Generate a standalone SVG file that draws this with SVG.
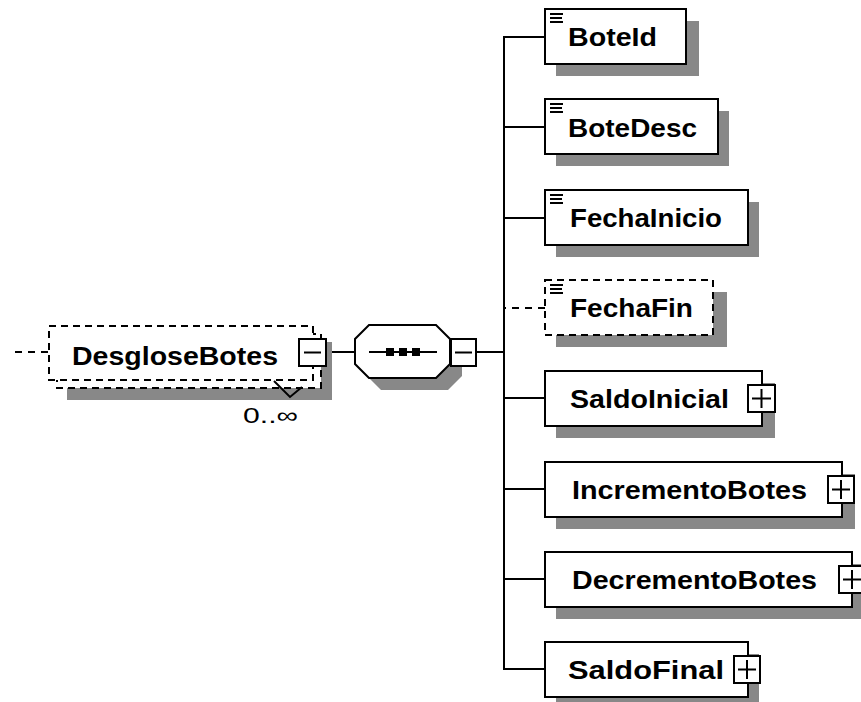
<svg xmlns="http://www.w3.org/2000/svg" width="861" height="702" viewBox="0 0 861 702">
<defs>
<style>
.bx{fill:#fff;stroke:#000;stroke-width:2}
.dbx{fill:#fff;stroke:#000;stroke-width:2;stroke-dasharray:7,5}
.sh{fill:#888}
.ln{stroke:#000;stroke-width:2;fill:none}
.dln{stroke:#000;stroke-width:2;fill:none;stroke-dasharray:7,6}
.btn{fill:#fff;stroke:#000;stroke-width:2}
.t{font-family:"Liberation Sans",Arial,sans-serif;font-weight:bold;font-size:26px;fill:#000}
.occ{font-family:"Liberation Sans",Arial,sans-serif;font-size:22px;fill:#000}
</style>
<g id="st">
<path d="M0 0h13M0 4h12M0 8h13" stroke="#000" stroke-width="2"/>
</g>
</defs>
<rect width="861" height="702" fill="#fff"/>

<g id="connectors">
<path class="dln" d="M48 352H11"/>
<path class="ln" d="M327 352H355"/>
<path class="ln" d="M477 352H504"/>
<path class="ln" d="M504 36V670"/>
<path class="ln" d="M504 37H545"/>
<path class="ln" d="M504 127H545"/>
<path class="ln" d="M504 218H545"/>
<path class="dln" d="M545 308H504"/>
<path class="ln" d="M504 398H545"/>
<path class="ln" d="M504 489H545"/>
<path class="ln" d="M504 579H545"/>
<path class="ln" d="M504 669H545"/>
</g>

<g id="DesgloseBotes">
<rect class="sh" x="67" y="342" width="265" height="58"/>
<rect class="dbx" x="57" y="334" width="264" height="54"/>
<rect class="dbx" x="49" y="326" width="264" height="54"/>
<text class="t" x="72" y="365" textLength="206" lengthAdjust="spacingAndGlyphs">DesgloseBotes</text>
<rect class="btn" x="299" y="339" width="27" height="27"/>
<path class="ln" d="M304 352.5H321"/>
<polyline class="ln" points="274,381 290,397 302,387"/>
<text class="occ" x="243" y="423" textLength="55" lengthAdjust="spacingAndGlyphs">0..∞</text>
</g>

<g id="sequence">
<polygon class="sh" points="381,337 448,337 462,351 462,376 448,390 381,390 367,376 367,351"/>
<polygon class="bx" points="369,325 436,325 450,339 450,364 436,378 369,378 355,364 355,339"/>
<path class="ln" d="M369 352H437"/>
<rect x="386" y="348" width="8" height="8" fill="#000"/>
<rect x="399" y="348" width="8" height="8" fill="#000"/>
<rect x="412" y="348" width="8" height="8" fill="#000"/>
<rect class="btn" x="451" y="339" width="25" height="27"/>
<path class="ln" d="M455 352.5H472"/>
</g>

<g id="BoteId">
<rect class="sh" x="556" y="21" width="143" height="55"/>
<rect class="bx" x="545" y="9" width="141" height="55"/>
<use href="#st" x="550" y="14"/>
<text class="t" x="568" y="46" textLength="89" lengthAdjust="spacingAndGlyphs">BoteId</text>
</g>

<g id="BoteDesc">
<rect class="sh" x="556" y="111" width="173" height="55"/>
<rect class="bx" x="545" y="99" width="173" height="55"/>
<use href="#st" x="550" y="104"/>
<text class="t" x="568" y="137" textLength="129" lengthAdjust="spacingAndGlyphs">BoteDesc</text>
</g>

<g id="FechaInicio">
<rect class="sh" x="556" y="202" width="203" height="55"/>
<rect class="bx" x="545" y="190" width="203" height="55"/>
<use href="#st" x="550" y="195"/>
<text class="t" x="570" y="227" textLength="152" lengthAdjust="spacingAndGlyphs">FechaInicio</text>
</g>

<g id="FechaFin">
<rect class="sh" x="556" y="292" width="171" height="55"/>
<rect class="dbx" x="545" y="280" width="168" height="55"/>
<use href="#st" x="550" y="285"/>
<text class="t" x="570" y="317" textLength="123" lengthAdjust="spacingAndGlyphs">FechaFin</text>
</g>

<g id="SaldoInicial">
<rect class="sh" x="556" y="383" width="219" height="55"/>
<rect class="bx" x="545" y="371" width="217" height="55"/>
<text class="t" x="570" y="408" textLength="159" lengthAdjust="spacingAndGlyphs">SaldoInicial</text>
<rect class="btn" x="748" y="385" width="27" height="27"/>
<path class="ln" d="M752 398.5H771M761.5 389V408"/>
</g>

<g id="IncrementoBotes">
<rect class="sh" x="556" y="474" width="299" height="55"/>
<rect class="bx" x="545" y="462" width="297" height="55"/>
<text class="t" x="572" y="499" textLength="235" lengthAdjust="spacingAndGlyphs">IncrementoBotes</text>
<rect class="btn" x="828" y="476" width="26" height="27"/>
<path class="ln" d="M832 489.5H850M841 480V499"/>
</g>

<g id="DecrementoBotes">
<rect class="sh" x="556" y="564" width="309" height="55"/>
<rect class="bx" x="545" y="552" width="307" height="55"/>
<text class="t" x="572" y="589" textLength="245" lengthAdjust="spacingAndGlyphs">DecrementoBotes</text>
<rect class="btn" x="839" y="566" width="26" height="27"/>
<path class="ln" d="M843 579.5H861M852 570V589"/>
</g>

<g id="SaldoFinal">
<rect class="sh" x="556" y="654" width="203" height="55"/>
<rect class="bx" x="545" y="642" width="203" height="55"/>
<text class="t" x="568" y="679" textLength="156" lengthAdjust="spacingAndGlyphs">SaldoFinal</text>
<rect class="btn" x="734" y="656" width="26" height="27"/>
<path class="ln" d="M738 669.5H756M747 660V679"/>
</g>
</svg>
